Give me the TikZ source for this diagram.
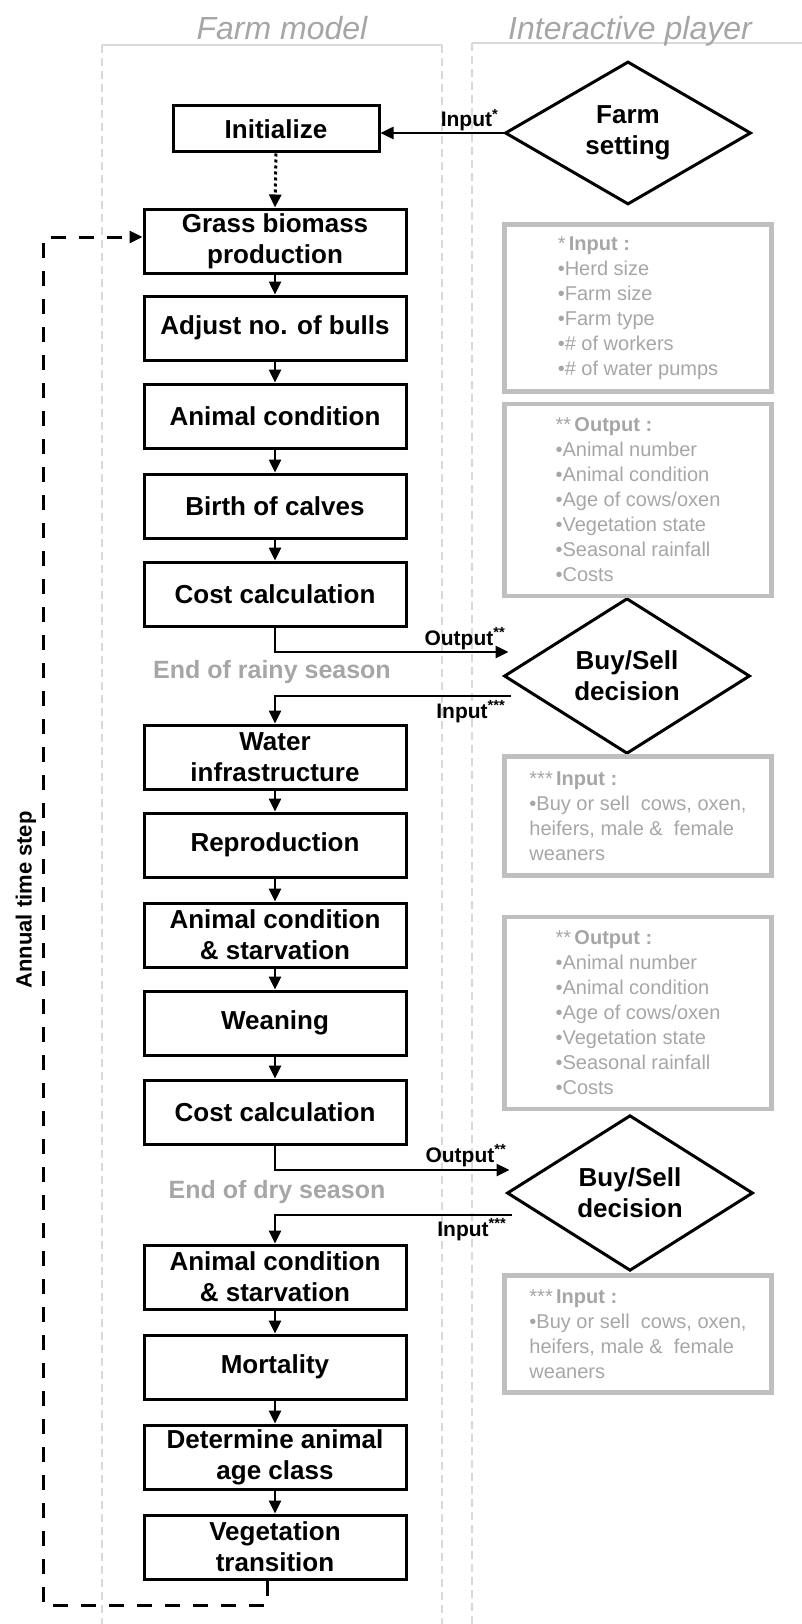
\documentclass[tikz,border=0pt]{standalone}
\usepackage{fontspec}
\setmainfont{Liberation Sans}
\usetikzlibrary{shapes.geometric,arrows.meta,positioning}
\definecolor{lanegray}{HTML}{D9D9D9}
\definecolor{titlegray}{HTML}{A6A6A6}
\definecolor{notegray}{HTML}{BFBFBF}
\definecolor{notetext}{HTML}{A6A6A6}
\tikzset{
  proc/.style = {draw=black, line width=3pt, minimum width=262pt, minimum height=64pt, inner sep=0pt, align=center, font=\fontsize{26}{31}\selectfont\bfseries},
  initbox/.style = {proc, minimum width=206pt, minimum height=46pt},
  decide/.style = {diamond, draw=black, line width=3pt, minimum width=246pt, minimum height=143pt, inner sep=0pt, align=center, font=\fontsize{26}{31}\selectfont\bfseries},
  note/.style = {draw=notegray, line width=4.5pt, minimum width=267pt, inner sep=0pt, align=left, text=notetext, font=\fontsize{20}{25}\selectfont},
  lanetitle/.style = {text=titlegray, font=\fontsize{32}{38}\selectfont\itshape, inner sep=0pt},
  season/.style = {text=titlegray, font=\fontsize{25}{30}\selectfont\bfseries, inner sep=0pt},
  port/.style = {font=\fontsize{21}{25}\selectfont\bfseries, inner sep=0pt},
  flow/.style = {line width=2.5pt, -{Triangle[length=13pt,width=12pt]}},
  lane/.style = {draw=lanegray, line width=2pt},
  loopback/.style = {flow, line width=3pt, dash pattern=on 15pt off 13pt}
}
\newcommand{\outlist}{{**\,\textbf{Output :}}\\\textbullet Animal number\\\textbullet Animal condition\\\textbullet Age of cows/oxen\\\textbullet Vegetation state\\\textbullet Seasonal rainfall\\\textbullet Costs}
\newcommand{\tradelist}{{***\,\textbf{Input :}}\\\textbullet Buy or sell\ \ cows, oxen,\\heifers, male \&\ \ female\\weaners}
\begin{document}
\begin{tikzpicture}[x=1pt, y=-1pt]
\useasboundingbox (0,0) rectangle (802,1624);

\draw[lane] (102,45) -- (442,45);
\draw[lane, dash pattern=on 8pt off 5pt] (102,45) -- (102,1624);
\draw[lane, dash pattern=on 8pt off 5pt] (442,45) -- (442,1624);
\draw[lane] (472,43) -- (802,43);
\draw[lane, dash pattern=on 8pt off 5pt] (472,43) -- (472,1624);
\node[lanetitle, anchor=base] (farmtitle) at (282,40) {Farm model};
\node[lanetitle, anchor=base] (playertitle) at (630,40) {Interactive player};

\node[initbox] (init) at (276,129) {Initialize};
\node[proc] (grass) at (275,241) {Grass biomass\\production};
\node[proc] (bulls) at (275,328) {Adjust no. of bulls};
\node[proc] (cond) at (275,416) {Animal condition};
\node[proc] (birth) at (275,506) {Birth of calves};
\node[proc] (cost) at (275,594) {Cost calculation};
\node[proc] (water) at (275,757) {Water\\infrastructure};
\node[proc] (repro) at (275,845) {Reproduction};
\node[proc] (starve) at (275,935) {Animal condition\\\& starvation};
\node[proc] (wean) at (275,1023) {Weaning};
\node[proc] (costb) at (275,1112) {Cost calculation};
\node[proc] (starveb) at (275,1277) {Animal condition\\\& starvation};
\node[proc] (mort) at (275,1367) {Mortality};
\node[proc] (age) at (275,1457) {Determine animal\\age class};
\node[proc] (veg) at (275,1547) {Vegetation\\transition};

\node[decide] (farmset) at (628,133) {Farm\\setting};
\node[decide] (trade) at (627,676) {Buy/Sell\\decision};
\node[decide] (tradeb) at (630,1193) {Buy/Sell\\decision};

\node[note, minimum height=167pt] (inputnote) at (638,308) {*\,\textbf{Input :}\\\textbullet Herd size\\\textbullet Farm size\\\textbullet Farm type\\\textbullet\#\ of workers\\\textbullet\#\ of water pumps};
\node[note, minimum height=192pt] (outnote) at (638,500) {\outlist};
\node[note, minimum height=119pt] (tradenote) at (638,816) {\tradelist};
\node[note, minimum height=192pt] (outnoteb) at (638,1013) {\outlist};
\node[note, minimum height=117pt] (tradenoteb) at (638,1334) {\tradelist};

\node[season] (rainy) at (272,672) {End of rainy season};
\node[season] (dry) at (277,1192) {End of dry season};
\node[font=\fontsize{22}{26}\selectfont\bfseries, inner sep=0pt, rotate=90] (annual) at (26,900) {Annual time step};

\draw[flow] (farmset.west) -- (farmset.west -| init.east);
\node[port, anchor=base east] (inlbl) at ([xshift=-5pt,yshift=6pt]farmset.west) {Input\textsuperscript{*}};
\draw[flow, line width=3pt, dash pattern=on 3pt off 3pt] (init.south) -- (grass.north);

\foreach \a/\b in {grass/bulls, bulls/cond, cond/birth, birth/cost, water/repro, repro/starve, starve/wean, wean/costb, starveb/mort, mort/age, age/veg}
  \draw[flow] (\a.south) -- (\b.north);

\coordinate (outa) at ([xshift=6pt,yshift=24pt]trade.west);
\coordinate (ina) at ([xshift=8pt,yshift=-20pt]trade.west);
\draw[flow] (cost.south) |- (outa);
\draw[flow] (ina) -| (water.north);
\node[port, anchor=base east] (outlbla) at ([xshift=-3pt,yshift=7pt]outa) {Output\textsuperscript{**}};
\node[port, anchor=base east] (inlbla) at ([xshift=-5pt,yshift=-22pt]ina) {Input\textsuperscript{***}};

\coordinate (outb) at ([xshift=4pt,yshift=23pt]tradeb.west);
\coordinate (inb) at ([xshift=6pt,yshift=-22pt]tradeb.west);
\draw[flow] (costb.south) |- (outb);
\draw[flow] (inb) -| (starveb.north);
\node[port, anchor=base east] (outlblb) at ([xshift=-3pt,yshift=8pt]outb) {Output\textsuperscript{**}};
\node[port, anchor=base east] (inlblb) at ([xshift=-5pt,yshift=-21pt]inb) {Input\textsuperscript{***}};

\coordinate (loopcorner) at (43,1605);
\draw[loopback] ([xshift=-8pt]veg.south) |- (loopcorner) |- ([yshift=4pt]grass.west);
\end{tikzpicture}
\end{document}
